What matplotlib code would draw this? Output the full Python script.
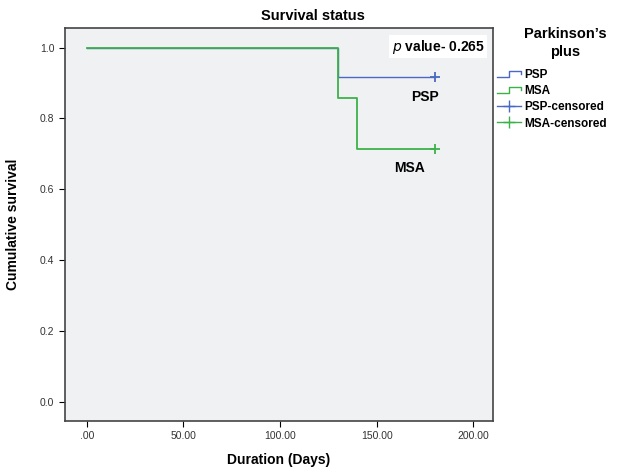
import matplotlib
matplotlib.use("Agg")
from matplotlib import pyplot as plt
from matplotlib.lines import Line2D
from matplotlib.legend_handler import HandlerBase

plt.rcParams['font.family'] = ['Liberation Sans', 'DejaVu Sans']

# Kaplan-Meier step data (time, survival)
psp_time = [0, 130, 180]
psp_surv = [1.0, 0.917, 0.917]
msa_time = [0, 130, 140, 180]
msa_surv = [1.0, 0.857, 0.714, 0.714]
psp_cens = (180, 0.917)
msa_cens = (180, 0.714)

xticks = [0, 50, 100, 150, 200]
xticklabels = ['.00', '50.00', '100.00', '150.00', '200.00']
yticks = [0.0, 0.2, 0.4, 0.6, 0.8, 1.0]
yticklabels = ['0.0', '0.2', '0.4', '0.6', '0.8', '1.0']

blue = '#4a68c4'
green = '#3cb14a'


class StepHandler(HandlerBase):
    # little step glyph like the SPSS legend
    def create_artists(self, legend, orig, xd, yd, w, h, fs, trans):
        xs = [xd, xd + w * 0.5, xd + w * 0.5, xd + w, xd + w]
        ys = [yd + h * 0.1, yd + h * 0.1, yd + h * 0.9, yd + h * 0.9, yd + h * 0.55]
        ln = Line2D(xs, ys, color=orig.get_color(), lw=1.0, transform=trans)
        return [ln]


fig = plt.figure(figsize=(6.3, 4.67), dpi=100)
ax = fig.add_axes([0.103, 0.0985, 0.68, 0.842])
ax.set_facecolor('#f0f1f3')

l1, = ax.step(psp_time, psp_surv, where='post', color=blue, lw=1.0)
l2, = ax.step(msa_time, msa_surv, where='post', color=green, lw=1.3)
ax.plot(*psp_cens, marker='+', color=blue, ms=7, mew=1.3)
ax.plot(*msa_cens, marker='+', color=green, ms=7, mew=1.3)

ax.set_xlim(-11.4, 210.4)
ax.set_ylim(-0.054, 1.056)
ax.set_xticks(xticks)
ax.set_xticklabels(xticklabels)
ax.set_yticks(yticks)
ax.set_yticklabels(yticklabels)
ax.tick_params(labelsize=7.5, labelcolor='#333333', length=4, direction='out')
for s in ax.spines.values():
    s.set_color('#444444')
    s.set_linewidth(1.2)

ax.set_xlabel('Duration (Days)', fontsize=10, fontweight='bold', labelpad=8)
ax.set_ylabel('Cumulative survival', fontsize=10, fontweight='bold')
ax.yaxis.set_label_coords(-0.105, 0.5)
fig.text(0.497, 0.965, 'Survival status', fontsize=10.5, fontweight='bold',
         ha='center', va='center')

ax.text(175, 0.862, 'PSP', fontsize=10, fontweight='bold', ha='center', va='center')
ax.text(167, 0.661, 'MSA', fontsize=10, fontweight='bold', ha='center', va='center')
ax.text(0.98, 0.975, r'$\it{p}$ value- 0.265', transform=ax.transAxes, fontsize=10,
        fontweight='bold', ha='right', va='top',
        bbox=dict(facecolor='white', edgecolor='none', pad=2))

fig.text(0.897, 0.908, "Parkinson\u2019s\nplus", fontsize=10.5, fontweight='bold',
         ha='center', va='center', multialignment='center', linespacing=1.35)

c1h = Line2D([], [], color=blue, marker='+', ms=9, lw=1.0)
c2h = Line2D([], [], color=green, marker='+', ms=9, lw=1.0)
leg = fig.legend([l1, l2, c1h, c2h], ['PSP', 'MSA', 'PSP-censored', 'MSA-censored'],
                 loc='upper left', bbox_to_anchor=(0.789, 0.852), frameon=False,
                 handler_map={l1: StepHandler(), l2: StepHandler()},
                 prop={'size': 8.5, 'weight': 'bold'}, handlelength=2.0, handletextpad=0.3,
                 labelspacing=0.35, borderpad=0, borderaxespad=0)

fig.savefig('out.png', dpi=100)
